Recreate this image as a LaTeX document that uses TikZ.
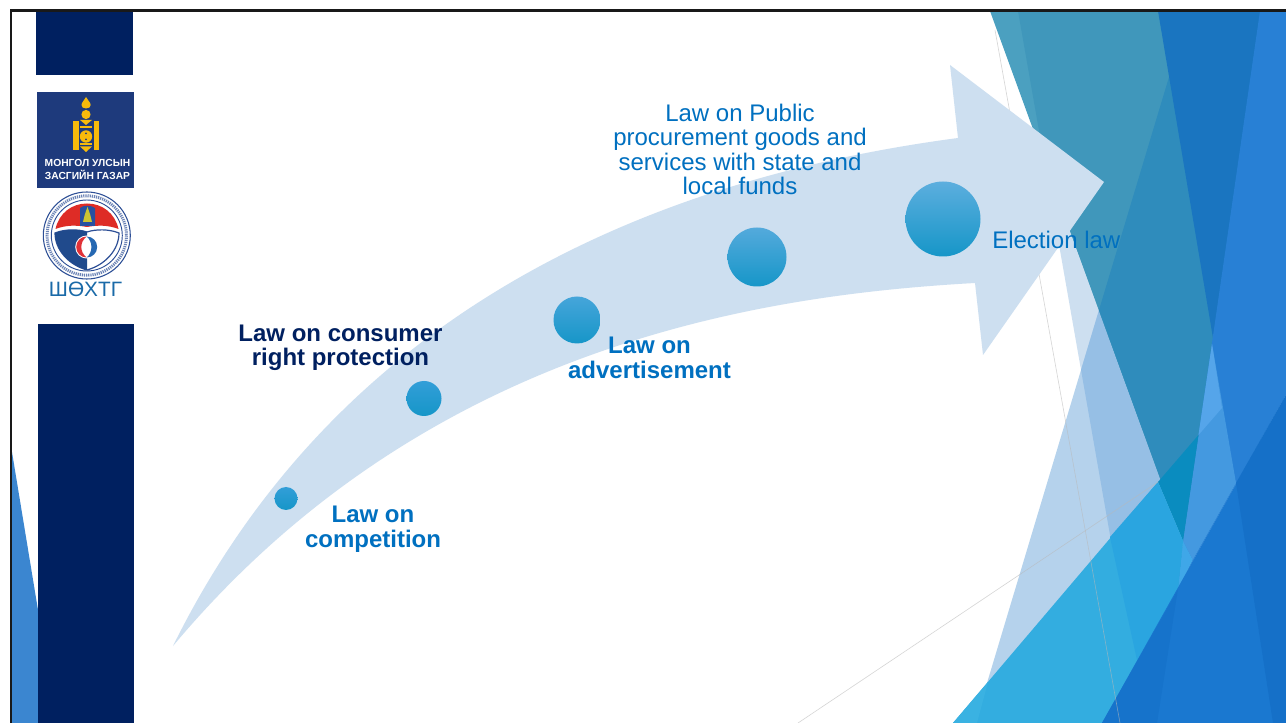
\documentclass[tikz,border=0pt]{standalone}
\usepackage{fontspec}
\setmainfont{Liberation Sans}
\definecolor{navy}{HTML}{002060}
\definecolor{lawblue}{HTML}{0070C0}
\definecolor{arrowfill}{HTML}{CDDFF0}
\definecolor{soy}{HTML}{F7BA0B}
\definecolor{logoblue}{HTML}{1E3A7C}
\definecolor{ringblue}{HTML}{2D4F96}
\definecolor{dotlow}{HTML}{1696C8}
\definecolor{dotA}{HTML}{329ED8}
\definecolor{dotB}{HTML}{46A5DA}
\definecolor{dotC}{HTML}{54AADC}
\definecolor{dotD}{HTML}{5CAEDE}
\definecolor{paleA}{HTML}{B5D2EC}
\definecolor{paleB}{HTML}{96BFE5}
\definecolor{tealA}{HTML}{4BA0C0}
\definecolor{tealB}{HTML}{4097BB}
\definecolor{tealC}{HTML}{2F8CBC}
\definecolor{tealD}{HTML}{1A75C0}
\definecolor{blueA}{HTML}{2880D5}
\definecolor{blueB}{HTML}{4499E0}
\definecolor{blueC}{HTML}{55A5EA}
\definecolor{cyanA}{HTML}{33ADE0}
\definecolor{cyanB}{HTML}{2AA5E0}
\definecolor{cyanC}{HTML}{3AB2E2}
\definecolor{cyanD}{HTML}{0A8CBF}
\definecolor{cyanE}{HTML}{3FA7E8}
\definecolor{deepA}{HTML}{1A78D0}
\definecolor{deepB}{HTML}{1570C8}
\definecolor{deepC}{HTML}{1673CB}
\definecolor{leftfacet}{HTML}{3B86D0}
\definecolor{sealred}{HTML}{DE2C26}
\definecolor{sealcol}{HTML}{2850A0}
\definecolor{sealgold}{HTML}{CDC432}
\definecolor{sealshield}{HTML}{204A8C}
\definecolor{swirlred}{HTML}{E03238}
\definecolor{swirlblue}{HTML}{2668B2}
\definecolor{agencytext}{HTML}{1A6AA8}
\tikzset{
  lawtext/.style={align=center,inner sep=0pt,text=lawblue,font=\fontsize{18}{18.4}\selectfont},
  lawbold/.style={lawtext,font=\fontsize{18}{18.4}\selectfont\bfseries},
  stagedot/.style={circle,inner sep=0pt,top color=#1,bottom color=dotlow},
  facetgrey/.style={draw=gray!55,line width=0.45pt,opacity=.6},
}
\begin{document}
\begin{tikzpicture}[x=0.75pt,y=-0.75pt]
\useasboundingbox (0,0) rectangle (1286,723);
\fill[white] (0,0) rectangle (1286,723);
% facet band and pale triangle
\fill[arrowfill] (1018,11)--(1158,11)--(1273,723)--(1143,723)--cycle;
\fill[paleA] (1169,77)--(975,723)--(1273,723)--cycle;
\begin{scope}
\clip (1018,11)--(1158,11)--(1273,723)--(1143,723)--cycle;
\fill[paleB] (1169,77)--(975,723)--(1273,723)--cycle;
\end{scope}
% teal facet
\fill[tealA] (990,11)--(1263,11)--(1183,541)--cycle;
\begin{scope}
\clip (990,11)--(1263,11)--(1183,541)--cycle;
\fill[tealB] (1018,11)--(1162,11)--(1277,723)--(1143,723)--cycle;
\fill[tealC] (1169,77)--(1173,77)--(1277,723)--(975,723)--cycle;
\fill[tealD] (1158,11)--(1263,11)--(1214,344)--cycle;
\end{scope}
% right blue facet
\fill[blueA] (1260,11)--(1286,11)--(1286,395)--(1102,723)--(1157,723)--cycle;
\fill[blueB] (1212,344)--(1236,483)--(1192.7,560)--(1183,541)--cycle;
\fill[blueC] (1212,344)--(1222,408)--(1198.5,435)--cycle;
% cyan facet
\fill[cyanD] (1158,482)--(1198.5,435)--(1183,541)--cycle;
\fill[cyanE] (1183,541)--(1192.7,560)--(1177.8,590)--cycle;
\fill[cyanA] (953,723)--(1158,482)--(1183,541)--(1177.8,590)--(1102,723)--cycle;
\fill[cyanB] (1110,537)--(1158,482)--(1183,541)--(1177.8,590)--(1137,660)--cycle;
\fill[cyanC] (953,723)--(988,682)--(977,723)--cycle;
% dark blue facet
\fill[deepA] (1102,723)--(1286,395)--(1286,723)--cycle;
\fill[deepB] (1236,483)--(1286,395)--(1286,723)--(1273,723)--cycle;
\fill[deepC] (1177.8,590)--(1157,723)--(1102,723)--cycle;
% thin grey lines
\draw[facetgrey] (995,30)--(1120,723);
\draw[facetgrey] (798,723)--(1158,482);
% left facet
\fill[leftfacet] (11,446)--(38,610)--(38,723)--(11,723)--cycle;
% navy bars
\fill[navy] (36,11) rectangle (133,75);
\fill[navy] (38,324) rectangle (134,723);
% frame
\fill[black!90] (9.5,9.5) rectangle (1286,11.7);
\fill[black!90] (9.5,9.5) rectangle (11.7,723);
% government logo
\fill[logoblue] (37,92) rectangle (134,188);
\fill[soy] (86,97) .. controls (85,100) and (81.5,102) .. (81.5,105) .. controls (81.5,107) and (83,108.5) .. (86,108.5) .. controls (89,108.5) and (90.7,107) .. (90.7,105) .. controls (90.7,102) and (87,100) .. (86,97) -- cycle;
\fill[soy] (86,114.5) circle (4.6);
\fill[soy] (80,120)--(92,120)--(86,125)--cycle;
\fill[soy] (80,126) rectangle (92,128);
\fill[soy] (73.3,121) rectangle (78.6,150);
\fill[soy] (93.6,121) rectangle (99,150);
\fill[soy] (86,136.5) circle (6.2);
\fill[logoblue] (86,133.5) circle (1);
\fill[logoblue] (86,139.5) circle (1);
\fill[soy] (80,143.5) rectangle (92,145.5);
\fill[soy] (80,146.5)--(92,146.5)--(86,152)--cycle;
\node[inner sep=0pt,text=white,font=\fontsize{7.7}{9.6}\selectfont\bfseries,align=center] (govname) at (87.5,169.5) {МОНГОЛ УЛСЫН\\ЗАСГИЙН ГАЗАР};
% agency seal
\draw[ringblue,line width=.8pt,fill=white] (86.8,235.5) circle (43.5);
\draw[ringblue!70,line width=2.2pt,dash pattern=on .9pt off .7pt] (86.8,235.5) circle (39.7);
\draw[ringblue,line width=.7pt] (86.8,235.5) circle (35.5);
\fill[sealred] (55.5,229) .. controls (59,213) and (72,203.5) .. (87,203.5) .. controls (102,203.5) and (115,213) .. (118.5,229) .. controls (108,225) and (98,225) .. (87,227) .. controls (76,225) and (66,225) .. (55.5,229) -- cycle;
\fill[sealcol] (80,226) -- (80,208) .. controls (83,205) and (91,205) .. (95,208) -- (95,226) -- cycle;
\fill[sealgold] (87.5,207) -- (90,214) -- (92,222) -- (83,222) -- (85,214) -- cycle;
\draw[ringblue,line width=.9pt,fill=white] (55,233) .. controls (65,229) and (78,229) .. (87,232) .. controls (96,229) and (109,229) .. (119,233) .. controls (119,250) and (105,265) .. (87,270) .. controls (69,265) and (55,250) .. (55,233) -- cycle;
\fill[sealshield] (55,233) .. controls (65,229) and (78,229) .. (87,232) -- (87,270) .. controls (69,265) and (55,250) .. (55,233) -- cycle;
\fill[white] (86.7,247) circle (11.5);
\fill[swirlred] (86.7,236.5) .. controls (80.9,236.5) and (76.2,241.2) .. (76.2,247) .. controls (76.2,252.8) and (80.9,257.5) .. (86.7,257.5) .. controls (79.5,252) and (79.5,242) .. (86.7,236.5) -- cycle;
\fill[swirlblue] (86.7,236.5) .. controls (92.5,236.5) and (97.2,241.2) .. (97.2,247) .. controls (97.2,252.8) and (92.5,257.5) .. (86.7,257.5) .. controls (93,252) and (93,242) .. (86.7,236.5) -- cycle;
\node[inner sep=0pt,text=agencytext,font=\fontsize{15.6}{16}\selectfont] (agency) at (85.5,289.5) {ШӨХТГ};
% big arrow
\fill[arrowfill] (173,646) .. controls (335,318) and (640,180) .. (958,138)
  -- (950,65) -- (1104,182) -- (983,355) -- (975,283)
  .. controls (760,295) and (425,345) .. (173,646) -- cycle;
% stage dots
\node[stagedot=dotA,minimum size=17.25pt] (d1) at (286,498.5) {};
\node[stagedot=dotA,minimum size=26.25pt] (d2) at (424,398.5) {};
\node[stagedot=dotB,minimum size=35.25pt] (d3) at (577,320) {};
\node[stagedot=dotC,minimum size=44.25pt] (d4) at (757,257) {};
\node[stagedot=dotD,minimum size=56.25pt] (d5) at (943,219) {};
% labels
\node[lawbold,text=navy] (consumer) at (340.5,348) {Law on consumer\\right protection};
\node[lawbold] (competition) at (373,529) {Law on\\competition};
\node[lawbold] (advert) at (649.5,358) {Law on\\advertisement};
\node[lawtext] (procure) at (740,149.5) {Law on Public\\procurement goods and\\services with state and\\local funds};
\node[lawtext,anchor=west] (election) at (992,240) {Election law};
\end{tikzpicture}
\end{document}
